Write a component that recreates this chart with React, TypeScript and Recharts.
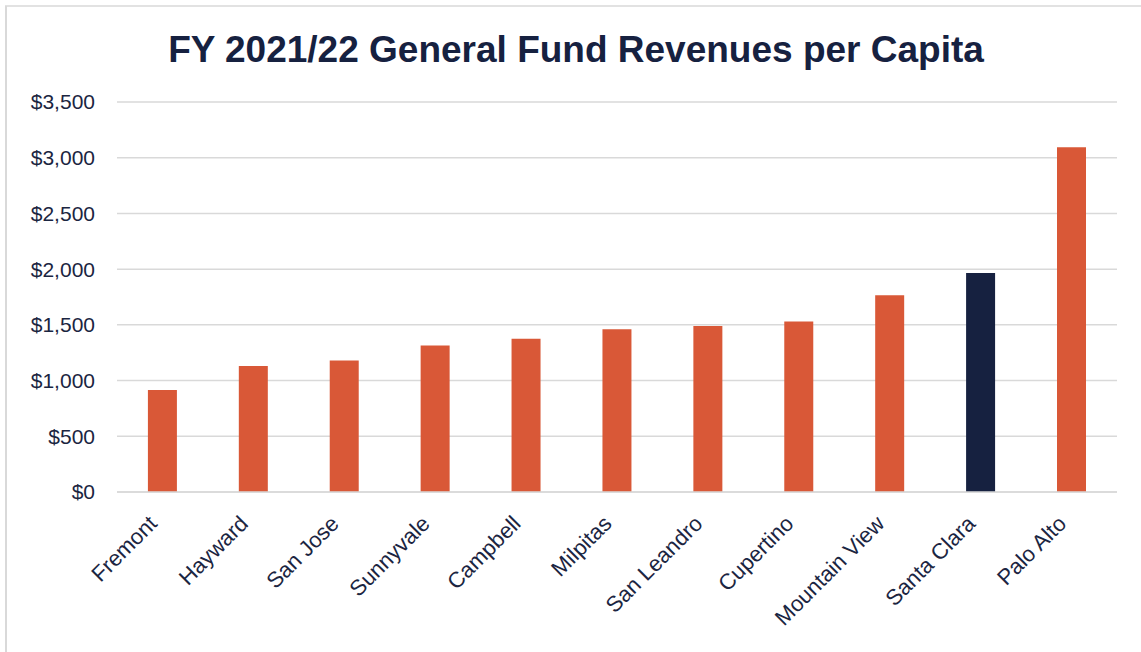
import { Bar, BarChart, CartesianGrid, Cell, XAxis, YAxis } from "recharts";

const cities = [
  "Fremont",
  "Hayward",
  "San Jose",
  "Sunnyvale",
  "Campbell",
  "Milpitas",
  "San Leandro",
  "Cupertino",
  "Mountain View",
  "Santa Clara",
  "Palo Alto",
];

const revenuePerCapita = [915, 1130, 1180, 1315, 1375, 1460, 1490, 1530, 1765, 1965, 3095];

const highlighted = ["Santa Clara"];

const yTicks = [0, 500, 1000, 1500, 2000, 2500, 3000, 3500];

const ORANGE = "#d95837";
const NAVY = "#162140";
const TEXT = "#1b2541";
const GRID = "#d9d9d9";
const FONT = "'Liberation Sans', Arial, sans-serif";

const data = cities.map((city, i) => ({ city, value: revenuePerCapita[i] }));

function formatDollars(v: number) {
  return "$" + v.toLocaleString("en-US");
}

function CityTick(props: any) {
  const { x, y, payload } = props;
  const tx = x - 4;
  const ty = y + 25;
  return (
    <text
      x={tx}
      y={ty}
      transform={`rotate(-45 ${tx} ${ty})`}
      textAnchor="end"
      fill={TEXT}
      fontSize={22}
      fontFamily={FONT}
    >
      {payload.value}
    </text>
  );
}

export default function App() {
  return (
    <div
      style={{
        position: "fixed",
        left: 0,
        top: 0,
        width: 1141,
        height: 652,
        background: "#fff",
        overflow: "hidden",
      }}
    >
      <BarChart
        width={1141}
        height={652}
        data={data}
        margin={{ top: 102, right: 24, bottom: 0, left: 0 }}
        barCategoryGap="34%"
      >
        <CartesianGrid vertical={false} stroke={GRID} strokeWidth={1.5} />
        <XAxis
          dataKey="city"
          interval={0}
          height={160}
          tickLine={false}
          axisLine={{ stroke: GRID, strokeWidth: 1.5 }}
          tick={<CityTick />}
        />
        <YAxis
          width={117}
          domain={[0, 3500]}
          ticks={yTicks}
          tickFormatter={formatDollars}
          axisLine={false}
          tickLine={false}
          tickSize={6}
          tickMargin={16}
          tick={{ fill: TEXT, fontSize: 21, fontFamily: FONT }}
        />
        <Bar dataKey="value" isAnimationActive={false}>
          {data.map((d) => (
            <Cell key={d.city} fill={highlighted.includes(d.city) ? NAVY : ORANGE} />
          ))}
        </Bar>
      </BarChart>
      <svg
        width={1141}
        height={652}
        style={{ position: "absolute", left: 0, top: 0, pointerEvents: "none" }}
      >
        <line x1={5} y1={6} x2={1141} y2={6} stroke={GRID} strokeWidth={1.5} />
        <line x1={6} y1={6} x2={6} y2={652} stroke={GRID} strokeWidth={2} />
        <text
          x={576}
          y={62}
          textAnchor="middle"
          fill={NAVY}
          fontSize={37}
          fontWeight="bold"
          fontFamily={FONT}
        >
          FY 2021/22 General Fund Revenues per Capita
        </text>
      </svg>
    </div>
  );
}
